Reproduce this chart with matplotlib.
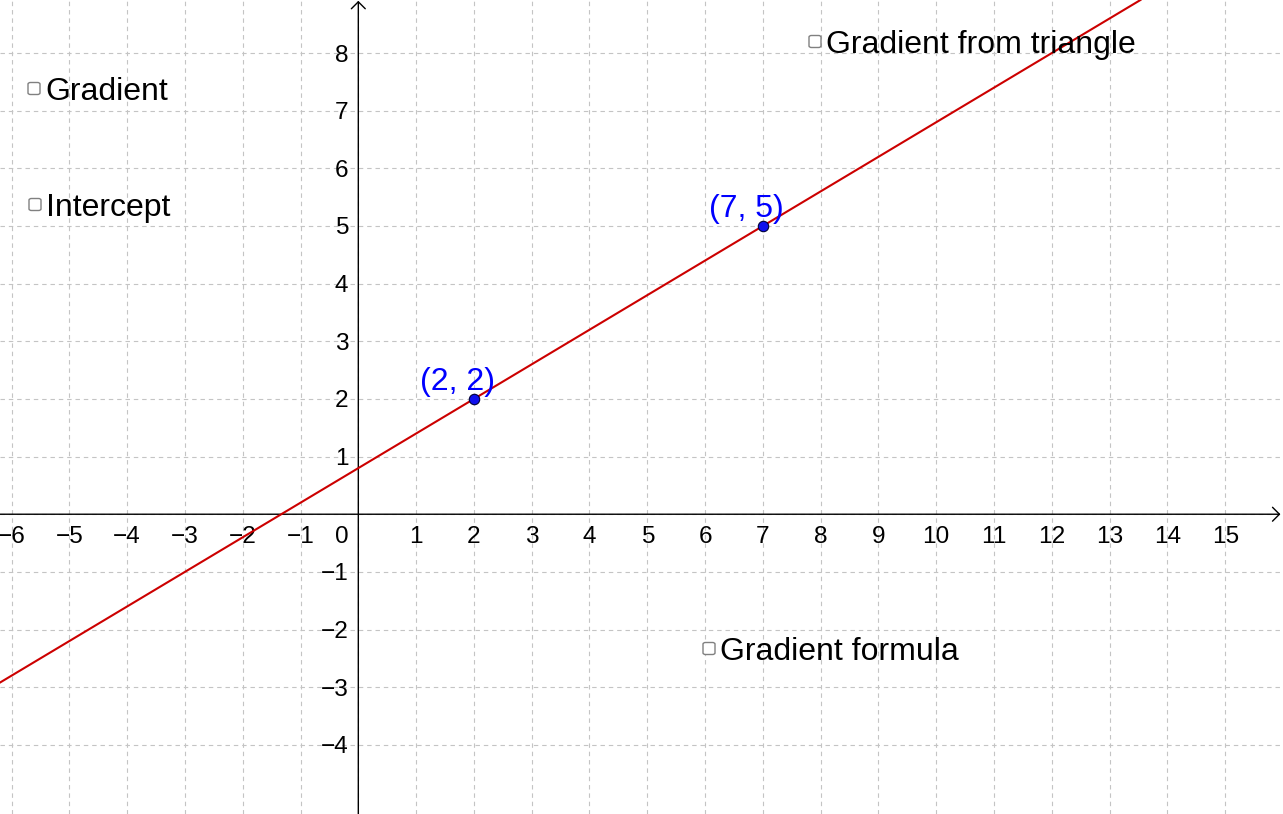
import matplotlib
matplotlib.use("Agg")
import matplotlib.pyplot as plt
from matplotlib.patches import FancyBboxPatch
from matplotlib.transforms import offset_copy

plt.rcParams["font.family"] = ["Liberation Sans", "DejaVu Sans"]

W, H = 1283, 814

# view window (data units)
x_min, x_max = -6.20, 16.00
y_min, y_max = -5.20, 8.92

x_ticks = list(range(-6, 16))
y_ticks = list(range(-4, 9))

# line through two points
pts_x = [2, 7]
pts_y = [2, 5]
pt_labels = ["(2, 2)", "(7, 5)"]

# checkbox labels and their screen positions (px from top-left: box left, text baseline)
cb_labels = ["Gradient", "Intercept", "Gradient from triangle", "Gradient formula"]
cb_x = [28, 29, 809, 703]
cb_base = [100, 216, 53, 660]


def fmt(v):
    return f"\u2212{abs(v)}" if v < 0 else str(v)


fig = plt.figure(figsize=(W / 100, H / 100), dpi=100)
ax = fig.add_axes([0, 0, 1, 1])
ax.set_xlim(x_min, x_max)
ax.set_ylim(y_min, y_max)
for s in ax.spines.values():
    s.set_visible(False)
ax.set_xticks(x_ticks)
ax.set_yticks(y_ticks)
ax.tick_params(length=0, labelbottom=False, labelleft=False)
ax.grid(True, color="#c4c4c4", linestyle=(0, (4, 3.5)), linewidth=0.8)

# axes with open arrow heads
arr = dict(arrowstyle="->,head_length=0.5,head_width=0.5", lw=1.0, color="black",
           shrinkA=0, shrinkB=0, mutation_scale=10)
ax.annotate("", xy=(0.998, 0), xycoords=("axes fraction", "data"),
            xytext=(0, 0), textcoords=("axes fraction", "data"), arrowprops=arr, zorder=3)
ax.annotate("", xy=(0, 0.999), xycoords=("data", "axes fraction"),
            xytext=(0, 0), textcoords=("data", "axes fraction"), arrowprops=arr, zorder=3)

# tick labels
tx = offset_copy(ax.transData, fig=fig, x=0, y=-28.5, units="dots")
for v in x_ticks:
    if v == 0:
        continue
    ax.text(v, 0, fmt(v), transform=tx, ha="center", va="baseline", fontsize=17.6)
t0 = offset_copy(ax.transData, fig=fig, x=-16.5, y=-28.5, units="dots")
ax.text(0, 0, "0", transform=t0, ha="center", va="baseline", fontsize=17.6)
ty = offset_copy(ax.transData, fig=fig, x=-10, y=-8.5, units="dots")
for v in y_ticks:
    if v == 0:
        continue
    ax.text(0, v, fmt(v), transform=ty, ha="right", va="baseline", fontsize=17.6)

# the line
slope = (pts_y[1] - pts_y[0]) / (pts_x[1] - pts_x[0])
ax.axline((pts_x[0], pts_y[0]), slope=slope, color="#cc0000", lw=1.5, zorder=4)

# points and labels
ax.plot(pts_x, pts_y, "o", ms=7.5, mfc="#1010ee", mec="#00003a", mew=0.8, zorder=5)
tl = offset_copy(ax.transData, fig=fig, x=-54, y=9, units="dots")
for px, py, lab in zip(pts_x, pts_y, pt_labels):
    ax.text(px, py, lab, transform=tl, ha="left", va="baseline", fontsize=23, color="#0000ff", zorder=6)

# checkboxes
box = 12
for lab, bx, bb in zip(cb_labels, cb_x, cb_base):
    by_c = bb - 11.5
    p = FancyBboxPatch((bx / W, 1 - (by_c + box / 2) / H), box / W, box / H,
                       boxstyle="round,pad=0,rounding_size=0.002", transform=fig.transFigure,
                       fc="white", ec="#808080", lw=1.0, zorder=7)
    fig.add_artist(p)
    fig.text((bx + box + 5) / W, 1 - bb / H, lab, ha="left", va="baseline", fontsize=23, zorder=8)

fig.savefig("out.png", dpi=100)
